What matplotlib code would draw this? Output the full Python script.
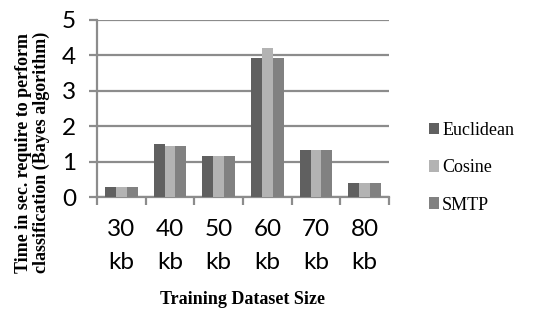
import matplotlib
matplotlib.use("Agg")
import matplotlib.pyplot as plt
import numpy as np

categories = ["30\nkb", "40\nkb", "50\nkb", "60\nkb", "70\nkb", "80\nkb"]
series_names = ["Euclidean", "Cosine", "SMTP"]
euclidean = [0.27, 1.50, 1.16, 3.92, 1.34, 0.40]
cosine = [0.27, 1.45, 1.16, 4.22, 1.34, 0.39]
smtp = [0.27, 1.43, 1.16, 3.92, 1.34, 0.39]
colors = ["#606060", "#b3b3b3", "#818181"]

fig = plt.figure(figsize=(5.34, 3.09), dpi=100)
ax = fig.add_axes([97/534, 1-197/309, (389-97)/534, (197-20)/309])

x = np.arange(len(categories))
w = 0.226
for i, (vals, name) in enumerate(zip([euclidean, cosine, smtp], series_names)):
    ax.bar(x + (i-1)*w, vals, width=w, color=colors[i], label=name, zorder=3)

ax.set_xlim(-0.5, len(categories)-0.5)
ax.set_ylim(0, 5)
ax.set_yticks([0, 1, 2, 3, 4, 5])
ax.yaxis.grid(True, color="#8c8c8c", linewidth=1.6, zorder=0)
ax.set_axisbelow(True)
for s in ["top", "right"]:
    ax.spines[s].set_visible(False)
for s in ["left", "bottom"]:
    ax.spines[s].set_color("#8c8c8c")
    ax.spines[s].set_linewidth(1.6)

ax.set_xticks(np.arange(len(categories)+1)-0.5, minor=False)
ax.set_xticklabels([])
ax.set_xticks(x, minor=True)
ax.set_xticklabels(categories, minor=True, fontsize=17.5, family="Lato", linespacing=1.72)
ax.tick_params(axis="x", which="major", length=6, width=1.6, color="#8c8c8c")
ax.tick_params(axis="x", which="minor", length=0, pad=16)
ax.tick_params(axis="y", length=6, width=1.6, color="#8c8c8c", pad=9, labelsize=17.5)
for lab in ax.get_yticklabels():
    lab.set_family("Lato")

ax.set_xlabel("Training Dataset Size", family="Liberation Serif", fontweight="bold", fontsize=13)
ax.xaxis.set_label_coords(0.5, -0.53)
ax.set_ylabel("Time in sec. require to perform\nclassification (Bayes algorithm)",
              family="Liberation Serif", fontweight="bold", fontsize=13, linespacing=1.05)
ax.yaxis.set_label_coords(-0.16, 0.25)

leg = ax.legend(loc="center left", bbox_to_anchor=(1.08, 0.165), frameon=False,
                prop={"family": "Liberation Serif", "size": 13},
                handlelength=0.6, handleheight=0.6, handletextpad=0.15, labelspacing=1.12)

fig.savefig("out.png", dpi=100)
